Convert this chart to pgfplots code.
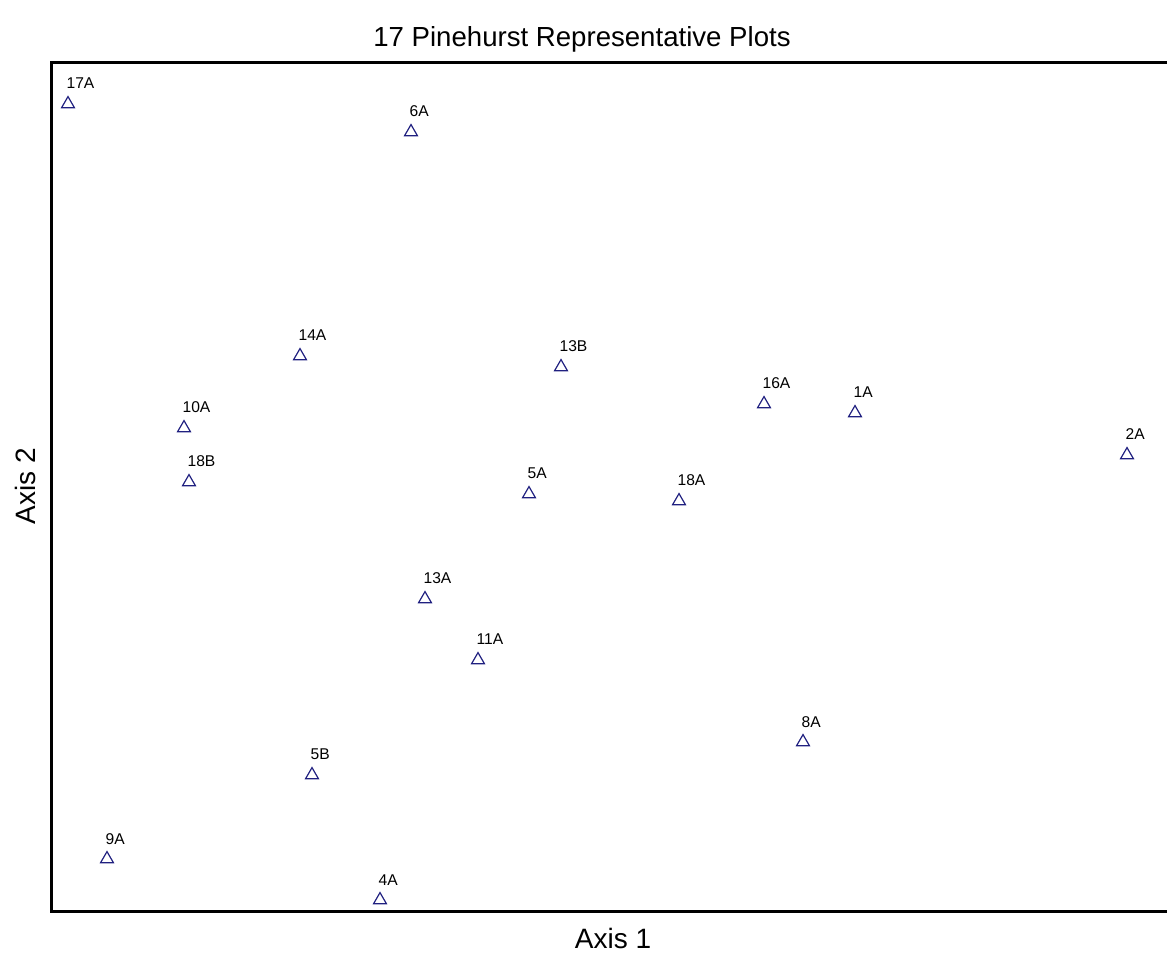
\documentclass[border=0pt]{standalone}
\usepackage{pgfplots}
\pgfplotsset{compat=1.18}
\usepackage{fontspec}
\setmainfont{Liberation Sans}
\definecolor{mk}{RGB}{32,32,128}
\begin{document}
\begin{tikzpicture}
\path[use as bounding box] (0,0) rectangle (583.5pt,478pt);
\begin{axis}[
  at={(25.5pt,22.5pt)}, anchor=south west,
  scale only axis, width=558pt, height=424pt,
  xmin=51, xmax=1167, ymin=63, ymax=911, y dir=reverse,
  hide axis, clip=false,
]
\addplot[only marks, mark=triangle, mark size=3.7pt, mk, mark options={line width=0.6pt},
  nodes near coords, point meta=explicit symbolic,
  every node near coord/.append style={anchor=base west, xshift=-1pt, yshift=7.5pt, font=\fontsize{7.8}{9}\selectfont, text=black, inner sep=0pt}]
table[x=x, y=y, meta=label] {
x y label
68 104 17A
411 132 6A
300 356 14A
561 367 13B
764 404 16A
855 413 1A
184 428 10A
1127 455 2A
189 482 18B
529 494 5A
679 501 18A
425 599 13A
478 660 11A
803 742 8A
312 775 5B
107 859 9A
380 900 4A
};
\draw[line width=1.5pt] (rel axis cs:1,0) -- (rel axis cs:0,0) -- (rel axis cs:0,1) -- (rel axis cs:1,1);
\end{axis}
\node[anchor=base, font=\fontsize{13.8}{16}\selectfont] at (291pt,454.5pt) {17 Pinehurst Representative Plots};
\node[anchor=base, font=\fontsize{14}{16}\selectfont] at (306.5pt,3.5pt) {Axis 1};
\node[anchor=base, rotate=90, font=\fontsize{14}{16}\selectfont] at (17.5pt,235pt) {Axis 2};
\end{tikzpicture}
\end{document}
